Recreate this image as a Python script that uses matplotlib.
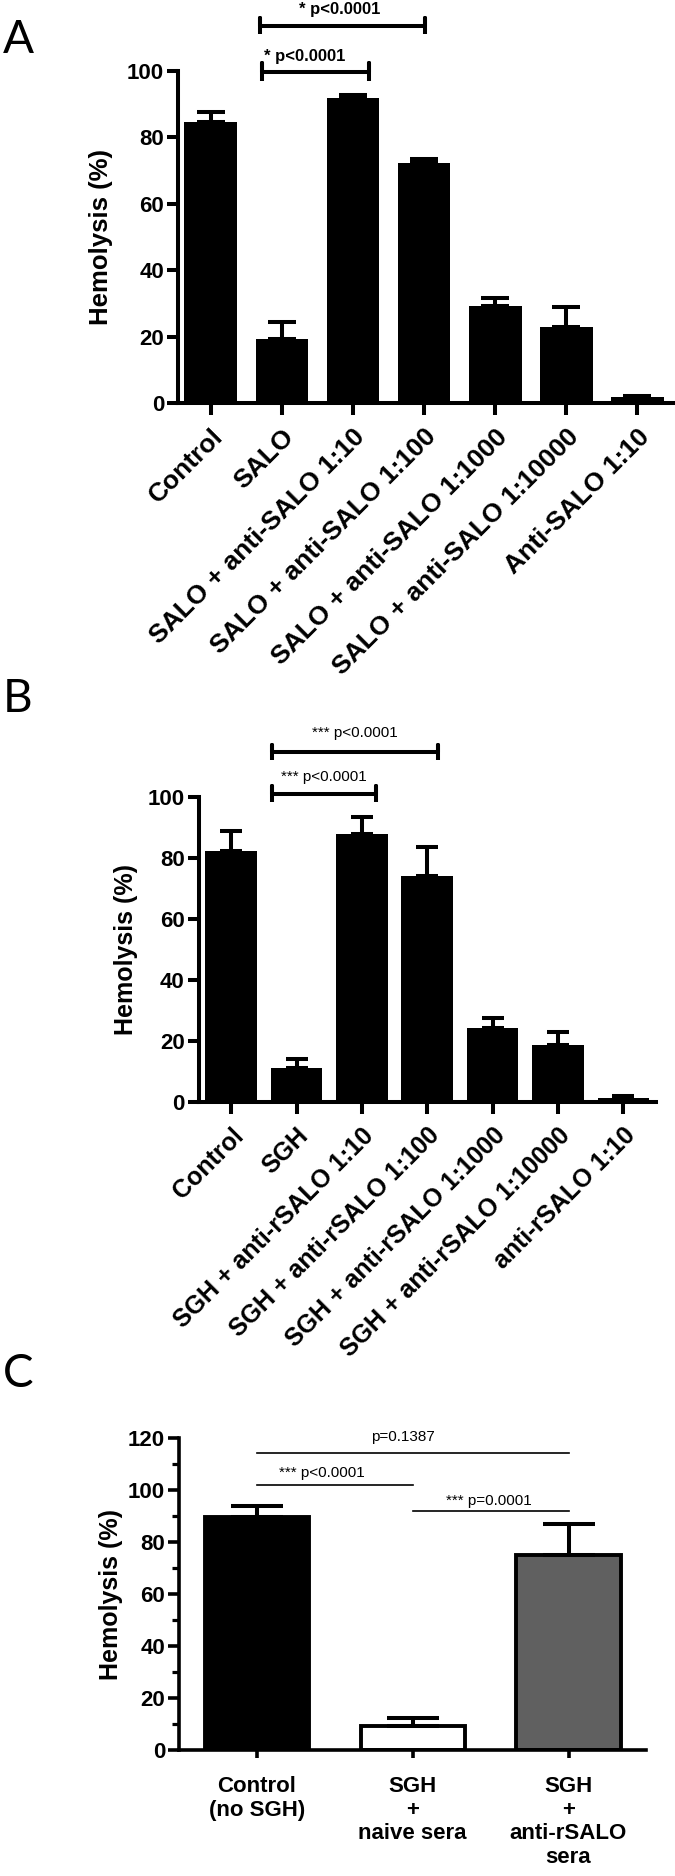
import matplotlib
matplotlib.use('Agg')
import matplotlib.pyplot as plt
import numpy as np

plt.rcParams['font.family'] = ['Liberation Sans', 'DejaVu Sans']

# ---------------- data ----------------
a_labels = ['Control', 'SALO', 'SALO + anti-SALO 1:10', 'SALO + anti-SALO 1:100',
            'SALO + anti-SALO 1:1000', 'SALO + anti-SALO 1:10000', 'Anti-SALO 1:10']
a_means = [84.5, 19.3, 91.9, 72.2, 29.1, 22.9, 1.8]
a_err = [3.1, 5.1, 1.0, 1.2, 2.5, 5.9, 0.4]
a_sig_text = ['* p<0.0001', '* p<0.0001']

b_labels = ['Control', 'SGH', 'SGH + anti-rSALO 1:10', 'SGH + anti-rSALO 1:100',
            'SGH + anti-rSALO 1:1000', 'SGH + anti-rSALO 1:10000', 'anti-rSALO 1:10']
b_means = [82.2, 10.9, 87.7, 74.0, 24.0, 18.5, 1.3]
b_err = [6.6, 3.2, 5.8, 9.6, 3.3, 4.2, 0.6]
b_sig_text = ['*** p<0.0001', '*** p<0.0001']

c_labels = ['Control\n(no SGH)', 'SGH\n+\nnaive sera', 'SGH\n+\nanti-rSALO\nsera']
c_means = [89.6, 9.3, 75.0]
c_err = [4.4, 2.9, 11.9]
c_colors = ['black', 'white', '#606060']
c_sig_text = ['p=0.1387', '*** p<0.0001', '*** p=0.0001']

W, H = 675, 1876
fig = plt.figure(figsize=(W / 100, H / 100), dpi=100)


def px_axes(left, right, top, bottom):
    return fig.add_axes([left / W, 1 - bottom / H, (right - left) / W, (bottom - top) / H])


def style(ax, lw=2.9):
    for s in ['top', 'right']:
        ax.spines[s].set_visible(False)
    for s in ['left', 'bottom']:
        ax.spines[s].set_linewidth(lw)
    ax.tick_params(axis='y', width=lw, length=8, pad=2, labelsize=16)
    ax.tick_params(axis='x', width=lw, length=8.5, pad=7)
    for t in ax.get_yticklabels():
        t.set_fontweight('bold')


def bars(ax, means, errs, width, colors, edge_lw, capsize, elw):
    x = np.arange(len(means))
    ax.bar(x, means, width, color=colors, edgecolor='black', linewidth=edge_lw, zorder=2)
    ax.errorbar(x, means, yerr=[np.zeros(len(errs)), errs], fmt='none', ecolor='black',
                elinewidth=elw, capsize=capsize, capthick=elw, zorder=3)
    return x


def bracket(ax, x0, x1, y, h, text, tx, ty, fs, weight, lw=2.9):
    ax.plot([x0, x0, x0, x1, x1, x1], [y - h, y + h, y, y, y + h, y - h],
            color='black', lw=lw, clip_on=False, solid_capstyle='butt')
    ax.text(tx, ty, text, ha='center', va='center', fontsize=fs, fontweight=weight,
            clip_on=False)


# ---------------- Panel A ----------------
axA = px_axes(178, 673, 71, 403)
x = bars(axA, a_means, a_err, 0.74, 'black', 0, 10, 2.9)
axA.set_xlim(-0.46, 6.5)
axA.set_ylim(0, 100)
axA.set_yticks([0, 20, 40, 60, 80, 100])
style(axA)
axA.set_xticks(x)
axA.set_xticklabels(a_labels, rotation=45, ha='right', va='top', rotation_mode='anchor',
                    fontsize=19, fontweight='bold')
axA.set_ylabel('Hemolysis (%)', fontsize=18.5, fontweight='bold')
axA.yaxis.set_label_coords(-0.131, 0.5)
bracket(axA, 0.69, 3.02, 113.5, 2.5, a_sig_text[0], 1.82, 118.4, 12, 'bold')
bracket(axA, 0.72, 2.23, 99.8, 2.7, a_sig_text[1], 1.32, 104.3, 12, 'bold')

# ---------------- Panel B ----------------
axB = px_axes(198.5, 656, 796.7, 1101.7)
x = bars(axB, b_means, b_err, 0.79, 'black', 0, 8, 2.9)
axB.set_xlim(-0.5, 6.5)
axB.set_ylim(0, 100)
axB.set_yticks([0, 20, 40, 60, 80, 100])
style(axB)
axB.set_xticks(x)
axB.set_xticklabels(b_labels, rotation=45, ha='right', va='top', rotation_mode='anchor',
                    fontsize=18, fontweight='bold')
axB.set_ylabel('Hemolysis (%)', fontsize=18, fontweight='bold')
axB.yaxis.set_label_coords(-0.132, 0.5)
bracket(axB, 0.63, 3.17, 114.5, 2.6, b_sig_text[0], 1.89, 121, 11, 'normal')
bracket(axB, 0.63, 2.21, 101.0, 2.6, b_sig_text[1], 1.42, 106.5, 11, 'normal')

# ---------------- Panel C ----------------
axC = px_axes(179, 646.4, 1438.3, 1750)
x = bars(axC, c_means, c_err, 0.67, c_colors, 2.8, 19, 2.9)
axC.set_xlim(-0.5, 2.5)
axC.set_ylim(0, 120)
axC.set_yticks(np.arange(0, 121, 20))
axC.set_yticks(np.arange(0, 121, 10), minor=True)
style(axC, lw=2.6)
axC.tick_params(axis='y', which='minor', width=2.3, length=5)
axC.tick_params(axis='x', length=6, pad=13)
axC.set_xticks(x)
axC.set_xticklabels(c_labels, fontsize=16, fontweight='bold', linespacing=1.15)
axC.set_ylabel('Hemolysis (%)', fontsize=18, fontweight='bold')
axC.yaxis.set_label_coords(-0.12, 0.5)
for (x0, x1, y), txt, (tx, ty) in zip([(0, 2, 114.3), (0, 1, 102.0), (1, 2, 92.0)],
                                       c_sig_text, [(0.94, 120.5), (0.42, 106.5), (1.49, 95.9)]):
    axC.plot([x0, x1], [y, y], color='black', lw=1.2, clip_on=False)
    axC.text(tx, ty, txt, ha='center', va='center', fontsize=11, clip_on=False)

# panel letters
for letter, base in zip(['A', 'B', 'C'], [53, 712, 1387]):
    fig.text(3 / W, 1 - base / H, letter, fontsize=33, family=['Lato', 'DejaVu Sans'],
             va='baseline', ha='left')

fig.savefig('out.png', dpi=100)
